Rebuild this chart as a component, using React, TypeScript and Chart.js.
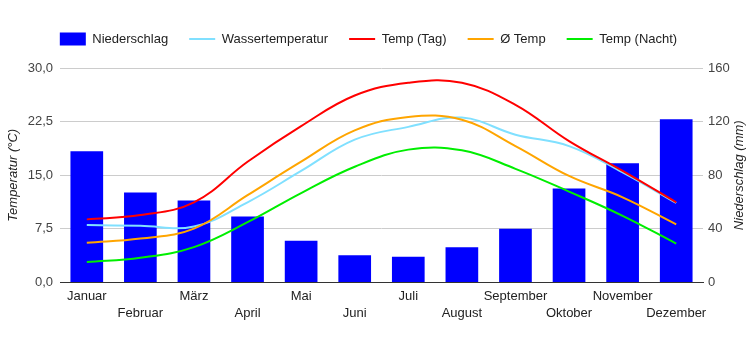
import React, { useEffect, useRef } from "react";
import { Chart, registerables } from "chart.js";

Chart.register(...registerables);

const months = [
  "Januar", "Februar", "März", "April", "Mai", "Juni",
  "Juli", "August", "September", "Oktober", "November", "Dezember",
];
const precipitation = [98, 67, 61, 49, 31, 20, 19, 26, 40, 70, 89, 122];
const waterTemp = [8.0, 7.9, 7.8, 11.2, 15.6, 20.0, 21.8, 23.1, 20.7, 19.1, 15.4, 11.1];
const dayTemp = [8.8, 9.4, 11.2, 16.9, 21.9, 26.2, 28.0, 28.0, 24.9, 19.8, 15.6, 11.2];
const avgTemp = [5.5, 6.1, 7.5, 12.2, 16.9, 21.3, 23.2, 22.8, 19.1, 14.9, 11.9, 8.1];
const nightTemp = [2.8, 3.4, 4.9, 8.4, 12.5, 16.2, 18.6, 18.5, 15.9, 12.7, 9.3, 5.4];

const FONT = '"Liberation Sans", Arial, sans-serif';

export default function App() {
  const ref = useRef<HTMLCanvasElement | null>(null);

  useEffect(() => {
    if (!ref.current) return;
    Chart.defaults.font.family = FONT;
    const rightTitle = {
      id: "rightTitle",
      afterDraw(chart: any) {
        const { ctx, chartArea } = chart;
        ctx.save();
        ctx.translate(chart.width - 11, (chartArea.top + chartArea.bottom) / 2);
        ctx.rotate(-Math.PI / 2);
        ctx.textAlign = "center";
        ctx.textBaseline = "middle";
        ctx.font = `italic 13px ${FONT}`;
        ctx.fillStyle = "#222";
        ctx.fillText("Niederschlag (mm)", 0, 0);
        ctx.restore();
      },
    };
    const lineDs = (label: string, data: number[], color: string, order: number) => ({
      type: "line",
      label,
      data,
      borderColor: color,
      backgroundColor: color,
      borderWidth: 2,
      pointRadius: 0,
      tension: 0.4,
      yAxisID: "y",
      order,
    });
    const chart = new Chart(ref.current, {
      type: "bar",
      data: {
        labels: months,
        datasets: [
          {
            type: "bar",
            label: "Niederschlag",
            data: precipitation,
            backgroundColor: "#0000ff",
            borderWidth: 0,
            yAxisID: "yR",
            barPercentage: 0.61,
            categoryPercentage: 1,
            order: 10,
          },
          lineDs("Wassertemperatur", waterTemp, "#80e0ff", 4),
          lineDs("Temp (Tag)", dayTemp, "#ff0000", 3),
          lineDs("Ø Temp", avgTemp, "#ffa500", 2),
          lineDs("Temp (Nacht)", nightTemp, "#00ee00", 1),
        ] as any,
      },
      options: {
        animation: false,
        responsive: false,
        layout: { padding: { top: 11.5, left: 0, right: 13, bottom: 0 } },
        plugins: {
          tooltip: { enabled: false },
          title: {
            display: true,
            text: "",
            position: "top",
            weight: 500,
            padding: 0,
            font: { size: 13, lineHeight: 1 },
          },
          legend: {
            position: "top",
            labels: {
              font: { size: 13, family: FONT },
              color: "#222",
              usePointStyle: true,
              pointStyleWidth: 26,
              boxHeight: 13,
              padding: 21,
              generateLabels: (c: any) => {
                const items = Chart.defaults.plugins.legend.labels.generateLabels(c);
                items.sort((a: any, b: any) => a.datasetIndex - b.datasetIndex);
                items.forEach((it: any) => {
                  if (it.datasetIndex === 0) {
                    it.pointStyle = "rect";
                    it.lineWidth = 0;
                  } else {
                    it.pointStyle = "line";
                    it.lineWidth = 2;
                  }
                });
                return items;
              },
            },
          },
        },
        scales: {
          x: {
            grid: { display: false, drawTicks: false },
            border: { display: true, color: "#333" },
            ticks: {
              autoSkip: false,
              maxRotation: 0,
              minRotation: 0,
              padding: 6,
              color: "#222",
              font: { size: 13, family: FONT, lineHeight: 1.28 },
              callback: (_v: any, i: number) => (i % 2 === 0 ? months[i] : ["", months[i]]),
            },
            afterFit: (s: any) => {
              s.height = 68;
            },
          },
          y: {
            position: "left",
            min: 0,
            max: 30,
            grid: {
              color: (ctx: any) => (ctx.tick && ctx.tick.value === 0 ? "#333" : "#cccccc"),
              drawTicks: false,
            },
            border: { display: false },
            ticks: {
              stepSize: 7.5,
              padding: 7,
              color: "#444",
              font: { size: 13, family: FONT },
              callback: (v: any) => Number(v).toFixed(1).replace(".", ","),
            },
            title: {
              display: true,
              text: "Temperatur (°C)",
              color: "#222",
              font: { size: 13, style: "italic", family: FONT },
              padding: { top: 6, bottom: 4 },
            },
            afterFit: (s: any) => {
              s.width = 60;
            },
          },
          yR: {
            position: "right",
            min: 0,
            max: 160,
            grid: { display: false, drawOnChartArea: false, drawTicks: false },
            border: { display: false },
            ticks: {
              stepSize: 40,
              padding: 5,
              color: "#444",
              font: { size: 13, family: FONT },
            },
            afterFit: (s: any) => {
              s.width = 34;
            },
          },
        },
      } as any,
      plugins: [rightTitle],
    });
    return () => chart.destroy();
  }, []);

  return (
    <div style={{ position: "absolute", left: 0, top: 0, width: 750, height: 350 }}>
      <canvas ref={ref} width={750} height={350} style={{ display: "block" }} />
    </div>
  );
}
